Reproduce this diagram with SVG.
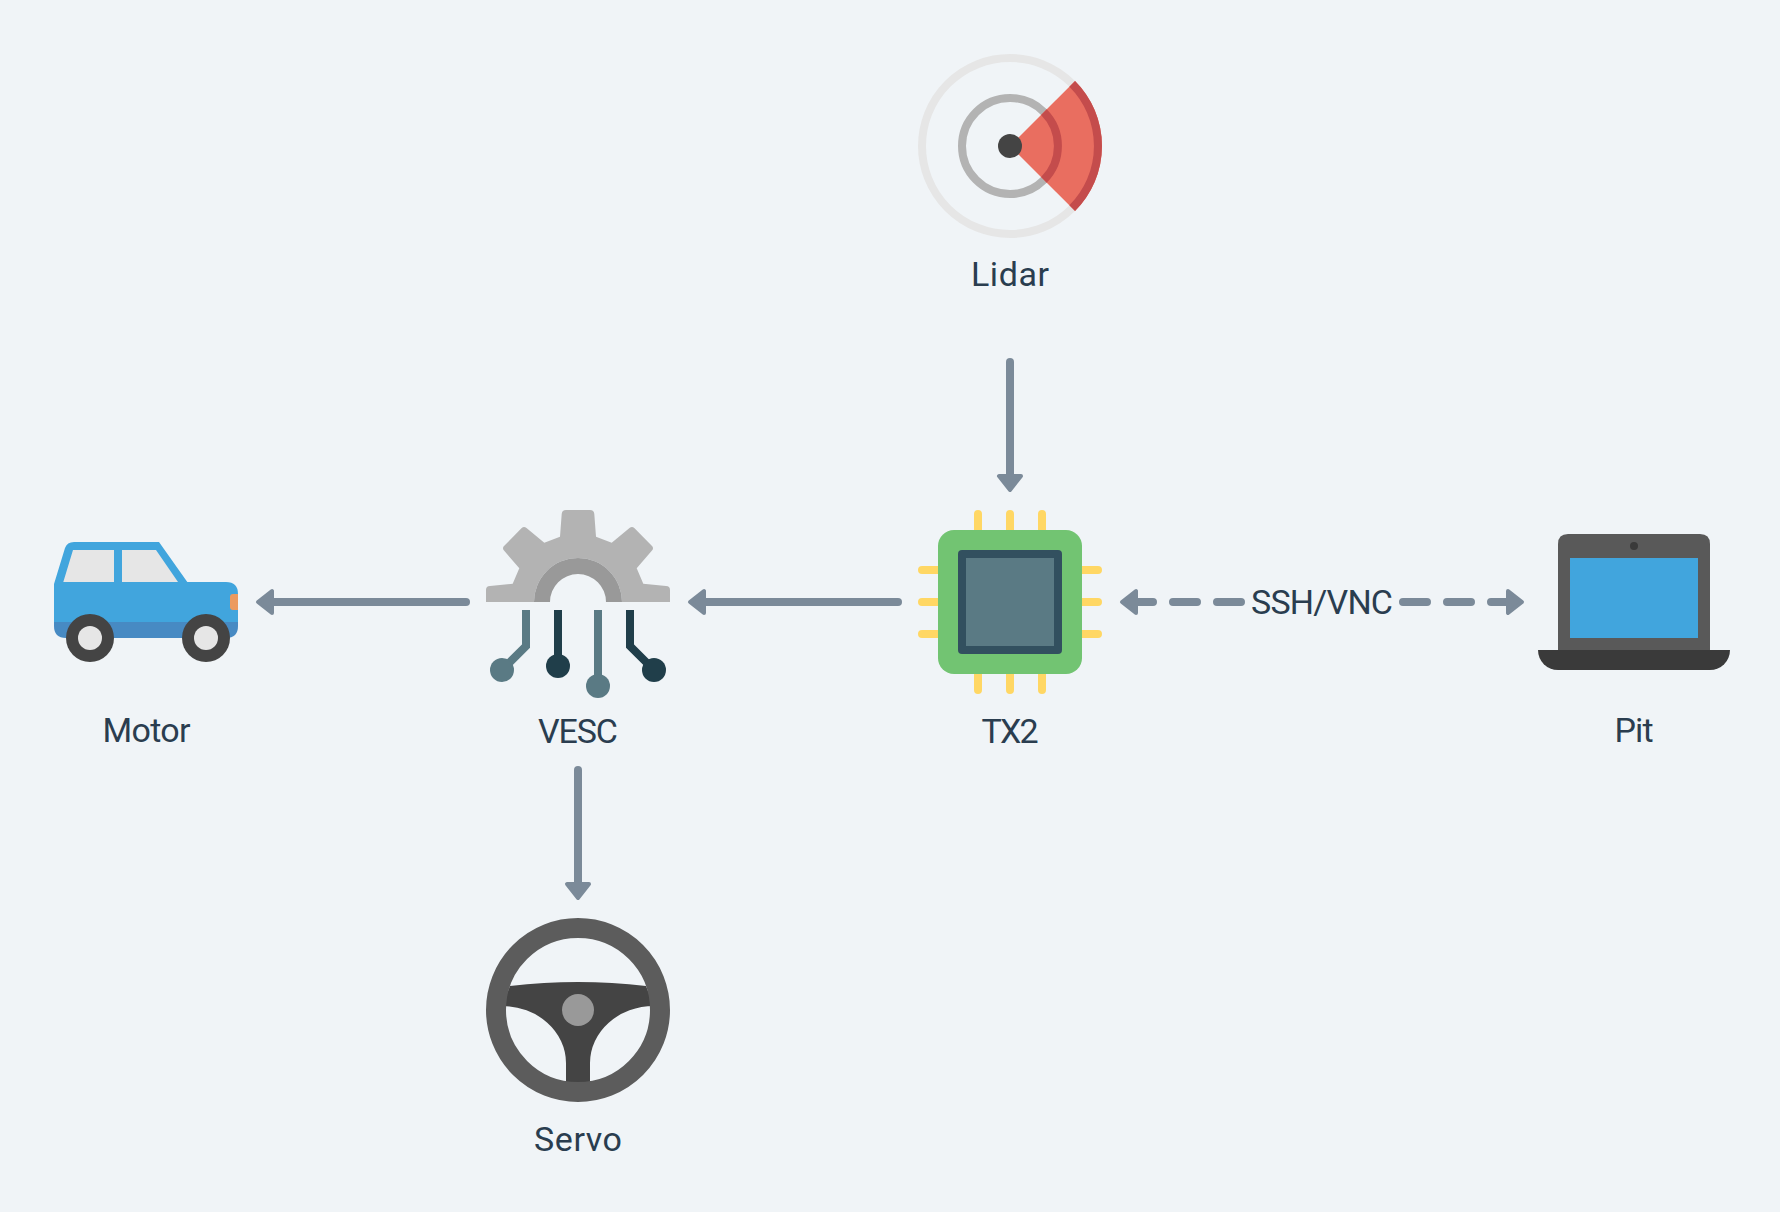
<svg xmlns="http://www.w3.org/2000/svg" width="1780" height="1212" viewBox="0 0 1780 1212">
  <style>
    text { font-family: "Roboto", "Liberation Sans", sans-serif; font-size: 34px; fill: #2a3d4f; text-anchor: middle; }
    .conn { fill: none; stroke: #7b8a99; stroke-width: 8; stroke-linecap: round; }
    .dash { stroke-dasharray: 24 20; }
    .pin { stroke: #ffd764; stroke-width: 8; stroke-linecap: round; fill: none; }
    .teal { fill: #5a7a84; }
    .deep { fill: #203e4a; }
    .teal-l { stroke: #5a7a84; stroke-width: 8; fill: none; }
    .deep-l { stroke: #203e4a; stroke-width: 8; fill: none; }
  </style>
  <defs>
    <marker id="head" markerUnits="userSpaceOnUse" markerWidth="24" markerHeight="32" viewBox="0 0 24 32" refX="4" refY="16" orient="auto-start-reverse">
      <path d="M2,5 L16,16 L2,27 Z" fill="#7b8a99" stroke="#7b8a99" stroke-width="4" stroke-linejoin="round"/>
    </marker>
  </defs>
  <rect width="1780" height="1212" fill="#f0f4f7"/>

  <g id="connectors">
    <path class="conn" d="M1010,362 L1010,478" marker-end="url(#head)"/>
    <path class="conn" d="M898,602 L702,602" marker-end="url(#head)"/>
    <path class="conn" d="M466,602 L270,602" marker-end="url(#head)"/>
    <path class="conn" d="M578,770 L578,886" marker-end="url(#head)"/>
    <path class="conn dash" d="M1241,602 L1134,602" marker-end="url(#head)"/>
    <path class="conn dash" d="M1403,602 L1510,602" marker-end="url(#head)"/>
    <text x="1322" y="614" textLength="142">SSH/VNC</text>
  </g>

  <g id="lidar">
    <circle cx="1010" cy="146" r="88" fill="none" stroke="#e6e6e6" stroke-width="8"/>
    <circle cx="1010" cy="146" r="48" fill="none" stroke="#b3b3b3" stroke-width="8"/>
    <path d="M1010,146 L1075.05,80.95 A92,92 0 0 1 1075.05,211.05 Z" fill="#e96e60"/>
    <path d="M1072.2,83.8 A88,88 0 0 1 1072.2,208.2" fill="none" stroke="#c44c4c" stroke-width="8"/>
    <path d="M1043.9,112.1 A48,48 0 0 1 1043.9,179.9" fill="none" stroke="#c44c4c" stroke-width="8"/>
    <circle cx="1010" cy="146" r="12" fill="#444444"/>
    <text x="1010" y="286" textLength="78">Lidar</text>
  </g>

  <g id="tx2">
    <path class="pin" d="M978,514 V530 M1010,514 V530 M1042,514 V530 M978,674 V690 M1010,674 V690 M1042,674 V690 M922,570 H938 M922,602 H938 M922,634 H938 M1082,570 H1098 M1082,602 H1098 M1082,634 H1098"/>
    <rect x="938" y="530" width="144" height="144" rx="16" fill="#72c472"/>
    <rect x="958" y="550" width="104" height="104" rx="4" fill="#32505f"/>
    <rect x="966" y="558" width="88" height="88" fill="#5a7a84"/>
    <text x="1010" y="743" textLength="57">TX2</text>
  </g>

  <g id="vesc">
    <path d="M486,602 V590 Q486,586 490,586 L512.7,583.7 L519.3,568.3 L504,550.5 Q502,548 504,546 L521.7,528 Q524,526 526.5,528 L544.3,542.7 L560,536.7 L561.7,514 Q562,510 566,510 H590 Q594,510 594.3,514 L596,536.7 L611.7,542.7 L629.5,528 Q632,526 634.3,528 L652,546 Q654,548 652,550.5 L636.7,568.3 L643.3,583.7 L666,586 Q670,586 670,590 V602 H622 A44,44 0 0 0 534,602 Z" fill="#b3b3b3"/>
    <path d="M534,602 A44,44 0 0 1 622,602 H606 A28,28 0 0 0 550,602 Z" fill="#999999"/>
    <path class="teal-l" d="M526,610 V646 L502,670"/>
    <path class="deep-l" d="M558,610 V666"/>
    <path class="teal-l" d="M598,610 V686"/>
    <path class="deep-l" d="M630,610 V646 L654,670"/>
    <circle class="teal" cx="502" cy="670" r="12"/>
    <circle class="deep" cx="558" cy="666" r="12"/>
    <circle class="teal" cx="598" cy="686" r="12"/>
    <circle class="deep" cx="654" cy="670" r="12"/>
    <text x="578" y="743" textLength="80">VESC</text>
  </g>

  <g id="motor">
    <path d="M54,584 L65,548 Q67,542 74,542 H159 L187.3,582 H226 Q238,582 238,594 V622 H54 Z" fill="#41a5dd"/>
    <path d="M54,622 H238 V626 Q238,638 226,638 H66 Q54,638 54,626 Z" fill="#478ac3"/>
    <path d="M73,550 H114 V582 H63.3 Z M122,550 H156 L178,582 H122 Z" fill="#e6e6e6"/>
    <path d="M238,594 H233 Q230,594 230,597 V607 Q230,610 233,610 H238 Z" fill="#ec9a5f"/>
    <circle cx="90" cy="638" r="24" fill="#444444"/>
    <circle cx="90" cy="638" r="12" fill="#e6e6e6"/>
    <circle cx="206" cy="638" r="24" fill="#444444"/>
    <circle cx="206" cy="638" r="12" fill="#e6e6e6"/>
    <text x="146.5" y="742" textLength="88">Motor</text>
  </g>

  <g id="pit">
    <path d="M1558,650 V544 Q1558,534 1568,534 H1700 Q1710,534 1710,544 V650 Z" fill="#595959"/>
    <rect x="1570" y="558" width="128" height="80" fill="#41a5dd"/>
    <circle cx="1634" cy="546" r="4" fill="#3a3a3a"/>
    <path d="M1538,650 H1730 A20,20 0 0 1 1710,670 H1558 A20,20 0 0 1 1538,650 Z" fill="#3a3a3a"/>
    <text x="1634" y="742" textLength="39">Pit</text>
  </g>

  <g id="servo">
    <path d="M510,986 Q578,978 646,986 L654,1006 A64,57 0 0 0 590,1063 V1085 H566 V1063 A64,57 0 0 0 502,1006 Z" fill="#444444"/>
    <circle cx="578" cy="1010" r="82" fill="none" stroke="#5c5c5c" stroke-width="20"/>
    <circle cx="578" cy="1010" r="16" fill="#999999"/>
    <text x="578" y="1151" textLength="88">Servo</text>
  </g>
</svg>
